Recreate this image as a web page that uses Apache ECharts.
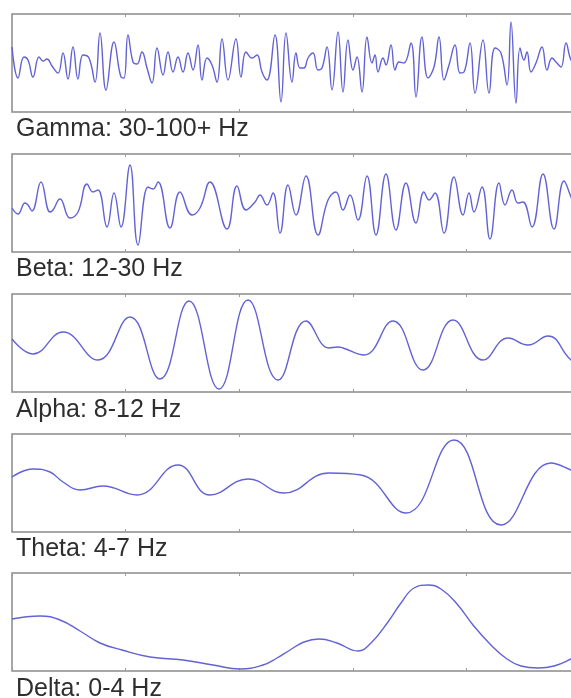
<!DOCTYPE html>
<html><head><meta charset="utf-8">
<script src="https://cdn.jsdelivr.net/npm/echarts@6/dist/echarts.min.js"></script>
<style>html,body{margin:0;padding:0;background:#fff}#c{width:571px;height:698px}</style>
</head><body><div id="c"></div>
<script>
// Band labels shown under each trace
const bandLabels = ["Gamma: 30-100+ Hz", "Beta: 12-30 Hz", "Alpha: 8-12 Hz", "Theta: 4-7 Hz", "Delta: 0-4 Hz"];

// Each trace: [time sample, amplitude]
const gammaWave = [[0,16],[6,-15],[12,6],[16,3],[21,-14],[27,6],[31,2],[35,4],[40,-3],[46,-10],[51,10],[56,-16],[61,16],[66,-16],[71,8],[77,5],[83,-19],[88,30],[94,-27],[102,21],[109,-14],[112,-15],[116,28],[121,1],[125,-1],[130,11],[135,-5],[140,-20],[145,15],[151,-12],[156,11],[161,-9],[166,6],[171,-9],[176,10],[181,-7],[186,18],[190,-17],[195,5],[200,-2],[205,-19],[210,24],[216,-17],[224,24],[229,-14],[234,11],[240,5],[245,8],[250,-9],[255,-17],[263,28],[269,-39],[274,30],[280,-19],[284,10],[288,-5],[292,-5],[296,5],[301,10],[306,-7],[310,-5],[315,16],[320,-27],[326,31],[331,-29],[336,23],[341,-7],[345,6],[350,-29],[355,26],[360,0],[363,8],[366,-9],[371,5],[374,-2],[379,18],[383,-7],[387,1],[392,0],[399,20],[404,-34],[410,26],[416,-15],[422,-4],[427,26],[432,-17],[437,-2],[443,18],[448,-10],[452,-9],[458,20],[463,-30],[471,23],[477,-30],[483,15],[489,10],[495,-22],[499,41],[504,-40],[508,15],[512,3],[515,11],[519,-9],[524,0],[530,16],[535,-7],[540,5],[544,1],[549,-4],[554,20],[559,3],[568,-10]];

const betaWave = [[0,-5],[6,-11],[13,0],[16,-2],[20,-8],[29,21],[38,-9],[41,-7],[48,4],[58,-15],[66,-9],[75,19],[81,11],[86,13],[95,-24],[102,10],[109,-24],[118,38],[126,-42],[136,16],[141,14],[146,21],[158,-25],[168,11],[180,-12],[188,-5],[198,21],[215,-26],[225,17],[234,-7],[243,1],[248,8],[255,-2],[261,10],[268,-30],[276,18],[284,-12],[294,27],[306,-32],[316,3],[324,11],[331,-7],[338,8],[346,-17],[355,27],[364,-32],[374,29],[384,-27],[394,20],[404,-20],[412,11],[417,3],[423,10],[432,-30],[442,26],[451,-12],[457,10],[462,-9],[470,16],[478,-36],[487,20],[493,-2],[500,13],[506,0],[511,1],[520,-24],[531,29],[542,-26],[552,22],[559,6],[568,-15]];

const alphaWave = [[0,4],[21,-11],[51,11],[86,-17],[118,26],[148,-36],[177,42],[207,-46],[236,43],[266,-37],[294,22],[317,-5],[326,-4],[331,-5],[352,-12],[381,22],[411,-27],[441,23],[471,-17],[496,5],[516,-2],[536,7],[559,-17],[568,-20]];

const thetaWave = [[0,6],[21,14],[38,11],[51,1],[68,-7],[91,-3],[125,-12],[166,18],[198,-12],[236,4],[272,-10],[317,10],[349,8],[394,-30],[442,43],[489,-42],[539,20],[559,13],[568,9]];

const deltaWave = [[0,3],[28,6],[48,2],[68,-9],[88,-21],[110,-28],[138,-35],[171,-38],[201,-43],[228,-47],[251,-43],[265,-36],[278,-28],[292,-20],[307,-17],[325,-21],[346,-29],[359,-21],[376,0],[389,19],[402,34],[416,37],[429,33],[445,18],[461,-3],[478,-22],[495,-37],[509,-44],[526,-46],[542,-44],[559,-37],[568,-32]];

const waves = [gammaWave, betaWave, alphaWave, thetaWave, deltaWave];
const timeMax = 568, tickStep = 113.6, ampMax = 49;

const gridTops = [14, 154, 294, 434, 573];
const labelY = [129, 269, 410, 549, 689];

const grids = [], xAxes = [], yAxes = [], series = [], graphics = [];
gridTops.forEach((top, i) => {
  grids.push({left: 12, top: top, width: 568, height: 98, show: true, outerBoundsMode: 'none', containLabel: false,
    borderColor: '#8a8a8a', borderWidth: 1.5, backgroundColor: '#fff'});
  ['bottom', 'top'].forEach(pos => {
    xAxes.push({gridIndex: i, type: 'value', position: pos, min: 0, max: timeMax, interval: tickStep,
      axisLine: {show: false, onZero: false}, axisLabel: {show: false}, splitLine: {show: false},
      axisTick: {show: true, inside: true, length: 3, lineStyle: {color: '#9a9a9a', width: 1}}});
  });
  yAxes.push({gridIndex: i, type: 'value', min: -ampMax, max: ampMax, show: false});
  series.push({type: 'line', xAxisIndex: 2 * i, yAxisIndex: i, data: waves[i],
    showSymbol: false, smooth: 0.45, clip: true,
    lineStyle: {color: '#6262d6', width: 1.4}});
  graphics.push({type: 'text', left: 16, top: labelY[i] - 12,
    style: {text: bandLabels[i], fill: '#2e2e2e', font: '25px "Liberation Sans", Arial, sans-serif'}});
});

const chart = echarts.init(document.getElementById('c'), null, {renderer: 'canvas'});
chart.setOption({
  animation: false,
  backgroundColor: '#fff',
  grid: grids, xAxis: xAxes, yAxis: yAxes, series: series, graphic: graphics
});
</script></body></html>
